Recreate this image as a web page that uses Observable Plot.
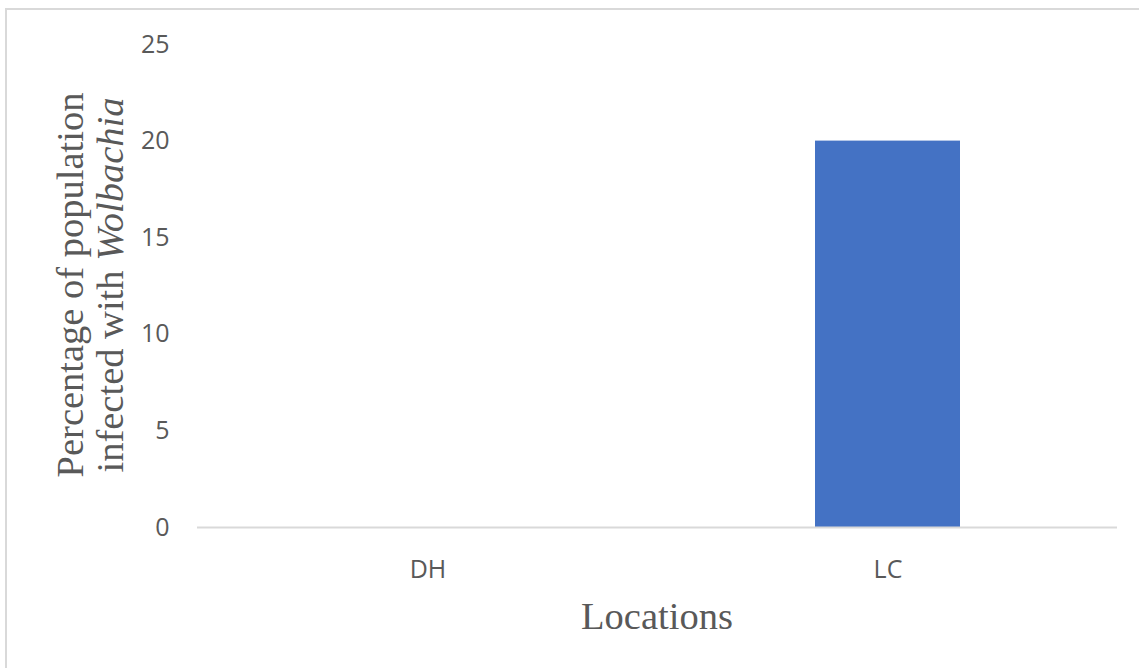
<!DOCTYPE html>
<html>
<head>
<meta charset="utf-8">
<script src="https://cdn.jsdelivr.net/npm/d3@7"></script>
<script src="https://cdn.jsdelivr.net/npm/@observablehq/plot@0.6"></script>
<style>
  html, body { margin: 0; padding: 0; background: #fff; }
  #frame { position: relative; width: 1139px; height: 668px; overflow: hidden; }
  #edge { position: absolute; left: 5px; top: 8px; width: 1200px; height: 700px;
          border-top: 2px solid #d9d9d9; border-left: 2px solid #d9d9d9; pointer-events: none; }
  #chart { position: absolute; left: 0; top: 0; }
</style>
</head>
<body>
<div id="frame">
  <div id="chart"></div>
  <div id="edge"></div>
</div>
<script>
// Wolbachia infection rate by sampling location
const locations = ["DH", "LC"];
const percentInfected = [0, 20];
const yTicks = [0, 5, 10, 15, 20, 25];

const data = locations.map((loc, i) => ({location: loc, pct: percentInfected[i]}));

const textGray = "#595959";
const sans = "'Open Sans', 'DejaVu Sans', sans-serif";
const serif = "'Liberation Serif', 'DejaVu Serif', serif";

const chart = Plot.plot({
  width: 1139,
  height: 668,
  marginTop: 44,
  marginBottom: 141,
  marginLeft: 197,
  marginRight: 22,
  style: {fontFamily: sans, fontSize: "25px", color: textGray, background: "transparent"},
  x: {domain: locations, paddingInner: 0.685, paddingOuter: 0.3425, label: null},
  y: {domain: [0, 25], ticks: yTicks, label: null},
  marks: [
    Plot.barY(data, {x: "location", y: "pct", fill: "#4472C4"}),
    Plot.ruleY([0], {stroke: "#d9d9d9", strokeWidth: 2}),
    Plot.axisY({ticks: yTicks, tickSize: 0, tickPadding: 28, fill: textGray, fontSize: 25, label: null}),
    Plot.axisX({tickSize: 0, tickPadding: 33, fill: textGray, fontSize: 25, label: null})
  ]
});

document.getElementById("chart").appendChild(chart);

const svg = d3.select(chart);

// x-axis title
svg.append("text")
  .attr("x", 657)
  .attr("y", 616)
  .attr("text-anchor", "middle")
  .attr("dominant-baseline", "central")
  .attr("font-family", serif)
  .attr("font-size", 38.5)
  .attr("fill", textGray)
  .text("Locations");

// two-line y-axis title with italic genus name
const yTitle = svg.append("text")
  .attr("transform", "translate(0,285) rotate(-90)")
  .attr("text-anchor", "middle")
  .attr("font-family", serif)
  .attr("font-size", 38.5)
  .attr("fill", textGray);

yTitle.append("tspan")
  .attr("x", 0)
  .attr("y", 83)
  .text("Percentage of population");

const line2 = yTitle.append("tspan")
  .attr("x", 0)
  .attr("y", 123);
line2.append("tspan").text("infected with ");
line2.append("tspan").attr("font-style", "italic").text("Wolbachia");
</script>
</body>
</html>
